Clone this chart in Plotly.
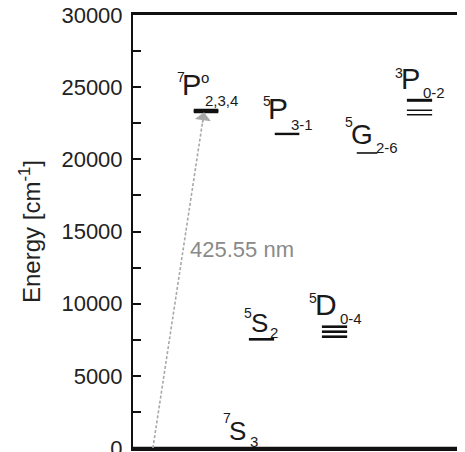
import plotly.graph_objects as go

# ---- data ----
terms = ["7S3", "7P", "5S", "5D", "5P", "5G", "3P"]
columns = [3.22, 2.20, 3.87, 6.07, 4.64, 7.05, 8.63]          # diagram column (arb. units)
energies = [
    [0],
    [23270, 23350, 23430],
    [7530],
    [8404, 8058, 7711],
    [21760],
    [20440],
    [24090, 23400, 23090],
]
mult = ["7", "7", "5", "5", "5", "5", "3"]
letter = ["S", "P", "S", "D", "P", "G", "P"]
parity = ["", "o", "", "", "", "", ""]
jlabel = ["3", "2,3,4", "2", "0-4", "3-1", "2-6", "0-2"]

transition_from = (0.60, 0)        # ground state start of arrow (column, energy)
transition_to = (2.14, 23270)      # 7P level
transition_label = "425.55 nm"

yticks = [0, 5000, 10000, 15000, 20000, 25000, 30000]
x_range = [0, 10]
y_range = [0, 30000]

# ---- styles ----
FONT = "Liberation Sans, Arial, sans-serif"
half_w = [0.37, 0.37, 0.38, 0.38, 0.37, 0.31, 0.38]
lw = [
    [2], [2.2, 2.2, 2.2], [2.6], [2.6, 2.6, 2.6], [2.4], [1.6], [3, 1.5, 1.5]
]
letter_size = [26, 29, 26, 30, 30, 28, 29]
# pixel offsets relative to the level (centre x, centre energy) : (dx_left, dy_centre up)
offs = {
    "7S3": dict(sup=(-19, 30), L=(-13, 17), sub=(8, 6.5), lev=0),
    "7P": dict(sup=(-31, 33.5), L=(-26, 25.5), o=(-7, 33), sub=(-3, 10), lev=1),
    "5S": dict(sup=(-19.5, 26.8), L=(-12.5, 16.8), sub=(6.5, 7.3), lev=0),
    "5D": dict(sup=(-28, 34.2), L=(-22, 27.2), sub=(3.5, 13.7), lev=1),
    "5P": dict(sup=(-26, 33.3), L=(-21, 25.8), sub=(2, 9.3), lev=0),
    "5G": dict(sup=(-24, 31), L=(-18, 18), sub=(7, 5.5), lev=0),
    "3P": dict(sup=(-26.5, 27.8), L=(-20.5, 21.3), sub=(1.5, 8.3), lev=0),
}

fig = go.Figure()

# bottom frame edge of the plot box (drawn as an unclipped line along the axis range)
fig.add_trace(go.Scatter(
    x=x_range, y=[y_range[0], y_range[0]], mode="lines",
    line=dict(color="#111111", width=2.5), hoverinfo="skip",
    showlegend=False, cliponaxis=False))

for i, t in enumerate(terms):
    for e, w in zip(energies[i], lw[i]):
        fig.add_trace(go.Scatter(
            x=[columns[i] - half_w[i], columns[i] + half_w[i]], y=[e, e],
            mode="lines", line=dict(color="#111111", width=w),
            hoverinfo="skip", showlegend=False, cliponaxis=False))

# dashed transition line
fig.add_trace(go.Scatter(
    x=[transition_from[0], transition_to[0]], y=[transition_from[1], transition_to[1]],
    mode="lines", line=dict(color="#a8a8a8", width=1.6, dash="3px,2px"),
    hoverinfo="skip", showlegend=False))

ann = []
# arrow head
ann.append(dict(x=transition_to[0], y=transition_to[1], xref="x", yref="y",
                ax=-1.8, ay=12, axref="pixel", ayref="pixel", text="",
                showarrow=True, arrowhead=1, arrowsize=1.8, arrowwidth=1.5,
                arrowcolor="#a8a8a8", standoff=0))
# transition label
frac = 0.59
ann.append(dict(x=transition_from[0] + frac * (transition_to[0] - transition_from[0]),
                y=frac * transition_to[1], xref="x", yref="y",
                text=transition_label, showarrow=False, xanchor="left", yanchor="middle",
                xshift=5, font=dict(family=FONT, size=22, color="#8a8a8a")))

for i, t in enumerate(terms):
    o = offs[t]
    levs = energies[i]
    ey = levs[o["lev"]] if len(levs) > 1 else levs[0]
    cx = columns[i]

    def put(txt, d, size):
        ann.append(dict(x=cx, y=ey, xref="x", yref="y", text=txt, showarrow=False,
                        xanchor="left", yanchor="middle", xshift=d[0], yshift=d[1],
                        font=dict(family=FONT, size=size, color="#1a1a1a")))
    put(mult[i], o["sup"], 14)
    put(letter[i], o["L"], letter_size[i])
    put(jlabel[i], o["sub"], 15)
    if parity[i]:
        put(parity[i], o["o"], 15)

# the page body adds an 8px margin, so the figure is sized to fit inside it
fig.update_layout(
    width=457, height=444,
    margin=dict(l=125, r=0, t=7, b=4, autoexpand=False),
    paper_bgcolor="white", plot_bgcolor="white",
    annotations=ann,
    xaxis=dict(range=x_range, showgrid=False, zeroline=False, showticklabels=False,
               ticks="", showline=True, mirror=True, linecolor="#111111", linewidth=2.5,
               fixedrange=True, automargin=False),
    yaxis=dict(range=y_range, showgrid=False, zeroline=False,
               tickvals=yticks, ticktext=[str(v) for v in yticks],
               ticks="inside", ticklen=8, tickwidth=1.5, tickcolor="#111111",
               minor=dict(dtick=2500, ticks="inside", ticklen=8, tickwidth=1.5,
                          tickcolor="#111111"),
               showline=True, linecolor="#111111", linewidth=2,
               tickfont=dict(family=FONT, size=22, color="#222222"),
               ticklabelstandoff=4, ticklabeloverflow="allow", automargin=False,
               title=dict(text="Energy [cm<sup>-1</sup>]", standoff=14,
                          font=dict(family=FONT, size=24, color="#222222")),
               fixedrange=True),
)

fig.write_html("out.html")
